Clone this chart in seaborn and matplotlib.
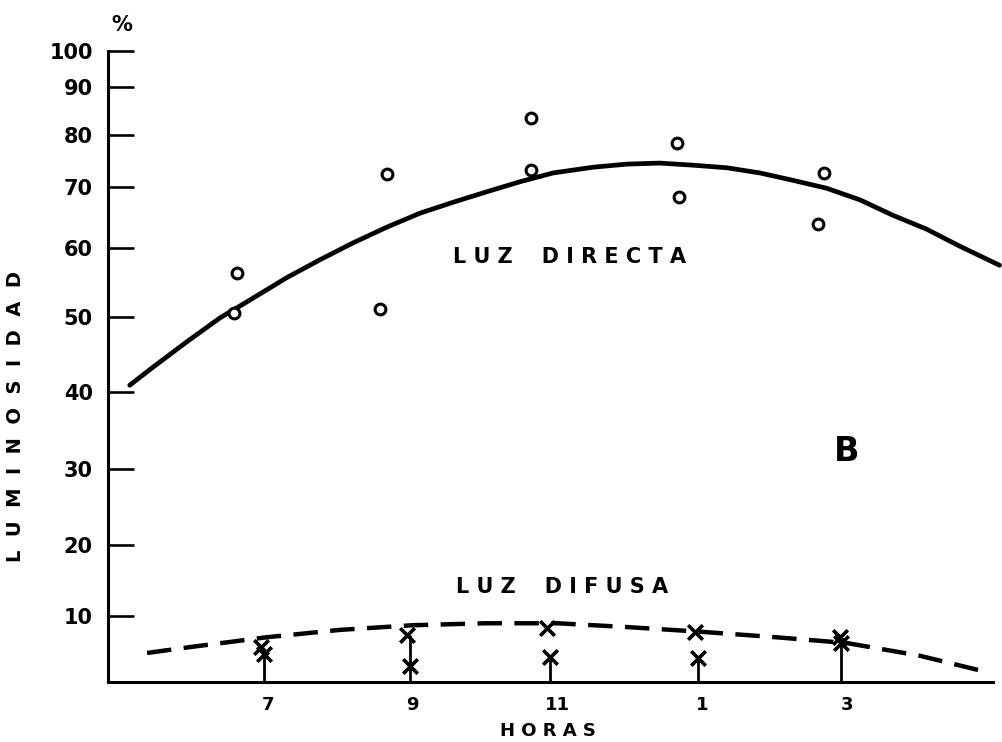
import numpy as np
import matplotlib
matplotlib.use("Agg")
import matplotlib.pyplot as plt
import seaborn as sns

# Luz directa: curva trazada y observaciones (circulos)
directa_hora = [5.09, 5.41, 5.88, 6.34, 6.71, 7.26, 7.72, 8.17, 8.64, 9.10, 9.56, 10.02, 10.48,
                10.94, 11.49, 11.96, 12.41, 12.87, 13.34, 13.80, 14.25, 14.72, 15.18, 15.63,
                16.10, 16.56, 17.11]
directa_curva = [40.9, 43.3, 46.7, 49.9, 52.2, 55.7, 58.3, 60.8, 63.4, 65.7, 67.5, 69.2, 71.0,
                 72.7, 73.8, 74.4, 74.6, 74.2, 73.7, 72.7, 71.3, 69.8, 67.9, 65.4,
                 63.1, 60.3, 57.5]
directa_obs_hora = [6.57, 6.53, 8.64, 8.55, 10.63, 10.63, 12.65, 12.68, 14.69, 14.6]
directa_obs = [56.4, 50.6, 72.5, 51.1, 83.5, 73.3, 78.5, 68.4, 72.7, 63.9]

# Luz difusa: curva discontinua y observaciones (cruces)
difusa_hora = [5.33, 6.0, 7.0, 8.0, 9.0, 10.0, 11.0, 12.0, 13.0, 14.0, 15.0, 16.0, 16.86]
difusa_curva = [4.4, 5.4, 6.8, 7.9, 8.6, 8.9, 8.9, 8.3, 7.6, 6.8, 5.9, 4.0, 1.7]
difusa_obs_hora = [6.9, 6.95, 8.92, 8.96, 10.85, 10.9, 12.9, 12.94, 14.9, 14.92]
difusa_obs = [5.3, 4.2, 7.1, 2.5, 8.2, 3.8, 7.6, 3.6, 6.8, 5.9]
tallo_hora = [6.95, 8.96, 10.9, 12.94, 14.92]
tallo_alto = [5.0, 7.1, 3.8, 3.6, 6.6]

hora_ticks = [7, 9, 11, 13, 15]
hora_labels = ["7", "9", "11", "1", "3"]
lum_ticks = [10, 20, 30, 40, 50, 60, 70, 80, 90, 100]

# escala vertical dibujada a mano (no lineal)
escala_val = [0, 10, 20, 30, 40, 50, 60, 70, 80, 90, 100]
escala_pos = [0, 66, 137, 213, 290, 365, 434, 495, 547, 595, 631]


def forward(v):
    return np.interp(v, escala_val, escala_pos)


def inverse(p):
    return np.interp(p, escala_pos, escala_val)


sns.set_style("white")
plt.rcParams["font.family"] = ["DejaVu Sans"]
plt.rcParams["font.weight"] = "bold"
plt.rcParams["text.color"] = "black"
plt.rcParams["xtick.color"] = "black"
plt.rcParams["ytick.color"] = "black"

fig = plt.figure(figsize=(10.03, 7.42), dpi=100)
ax = fig.add_axes([108 / 1003, 60 / 742, 885 / 1003, 631 / 742])
ax.set_yscale("function", functions=(forward, inverse))

sns.lineplot(x=directa_hora, y=directa_curva, ax=ax, color="black", lw=3.4,
             sort=False, errorbar=None, clip_on=False)
sns.lineplot(x=difusa_hora, y=difusa_curva, ax=ax, color="black", lw=3.2,
             linestyle=(0, (5.5, 2.8)), sort=False, errorbar=None)
sns.scatterplot(x=directa_obs_hora, y=directa_obs, ax=ax, marker="o", s=60,
                facecolor="white", edgecolor="black", linewidth=2.2, zorder=5)
ax.vlines(tallo_hora, 0, tallo_alto, color="black", lw=2.0, zorder=4)
sns.scatterplot(x=difusa_obs_hora, y=difusa_obs, ax=ax, marker="x", s=110,
                color="black", linewidth=2.6, zorder=6)

ax.set_xlim(4.79, 17.02)
ax.set_ylim(0, 100)
ax.set_xticks(hora_ticks)
ax.set_xticklabels(hora_labels, fontsize=13, fontweight="bold")
ax.set_yticks(lum_ticks)
ax.set_yticklabels([str(t) for t in lum_ticks], fontsize=15, fontweight="bold")
ax.tick_params(axis="x", length=0, pad=10)
ax.tick_params(axis="y", left=True, direction="in", length=19, width=1.9, pad=11)
ax.set_xlabel("")
ax.set_ylabel("")

for side in ["top", "right"]:
    ax.spines[side].set_visible(False)
for side in ["left", "bottom"]:
    ax.spines[side].set_linewidth(2.2)
    ax.spines[side].set_color("black")

fig.text(570 / 1003, 1 - 257 / 742, "L U Z    D I R E C T A", fontsize=15,
         fontweight="bold", ha="center", va="center")
fig.text(562 / 1003, 1 - 587 / 742, "L U Z    D I F U S A", fontsize=15,
         fontweight="bold", ha="center", va="center")
fig.text(847 / 1003, 1 - 452 / 742, "B", fontsize=24, fontweight="bold",
         ha="center", va="center")
fig.text(122 / 1003, 1 - 25 / 742, "%", fontsize=15, fontweight="bold",
         ha="center", va="center")
fig.text(548 / 1003, 1 - 731 / 742, "H O R A S", fontsize=13, fontweight="bold",
         ha="center", va="center")
fig.text(16 / 1003, 1 - 417 / 742, "L  U  M  I  N  O  S  I  D  A  D", fontsize=14,
         fontweight="bold", ha="center", va="center", rotation=90)

fig.savefig("out.png", dpi=100)
